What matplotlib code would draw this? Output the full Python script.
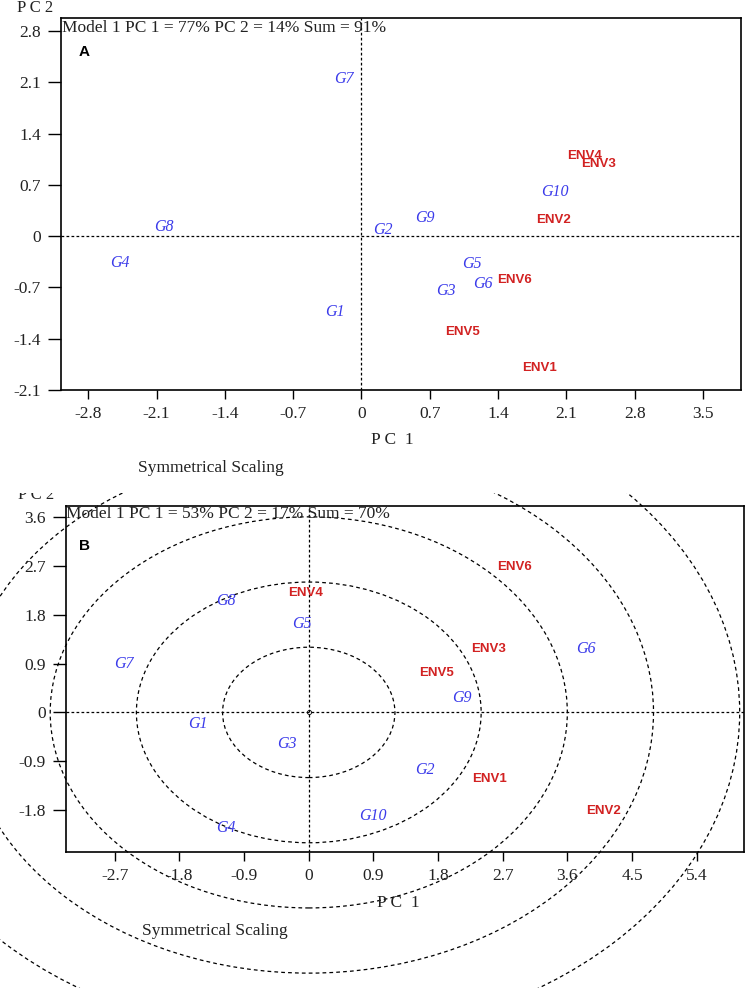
import matplotlib
matplotlib.use("Agg")
import matplotlib.pyplot as plt
from matplotlib.patches import Circle, Rectangle

# ---------------- data ----------------
# Panel A
a_gen_labels = ["G1", "G2", "G3", "G4", "G5", "G6", "G7", "G8", "G9", "G10"]
a_gen_pc1 = [-0.27, 0.22, 0.86, -2.48, 1.13, 1.24, -0.18, -2.03, 0.65, 1.98]
a_gen_pc2 = [-1.03, 0.08, -0.75, -0.36, -0.38, -0.65, 2.15, 0.12, 0.25, 0.60]
a_env_labels = ["ENV1", "ENV2", "ENV3", "ENV4", "ENV5", "ENV6"]
a_env_pc1 = [1.82, 1.97, 2.43, 2.29, 1.04, 1.57]
a_env_pc2 = [-1.80, 0.22, 0.98, 1.09, -1.31, -0.60]
a_ticks = [-2.8, -2.1, -1.4, -0.7, 0, 0.7, 1.4, 2.1, 2.8, 3.5]
a_yticks = [-2.1, -1.4, -0.7, 0, 0.7, 1.4, 2.1, 2.8]
a_title = "Model 1 PC 1 = 77% PC 2 = 14% Sum = 91%"

# Panel B
b_gen_labels = ["G1", "G2", "G3", "G4", "G5", "G6", "G7", "G8", "G9", "G10"]
b_gen_pc1 = [-1.54, 1.62, -0.30, -1.16, -0.09, 3.86, -2.57, -1.15, 2.13, 0.89]
b_gen_pc2 = [-0.22, -1.06, -0.58, -2.13, 1.62, 1.16, 0.90, 2.05, 0.26, -1.90]
b_env_labels = ["ENV1", "ENV2", "ENV3", "ENV4", "ENV5", "ENV6"]
b_env_pc1 = [2.52, 4.10, 2.51, -0.05, 1.78, 2.86]
b_env_pc2 = [-1.22, -1.82, 1.16, 2.20, 0.72, 2.68]
b_ticks = [-2.7, -1.8, -0.9, 0, 0.9, 1.8, 2.7, 3.6, 4.5, 5.4]
b_yticks = [-1.8, -0.9, 0, 0.9, 1.8, 2.7, 3.6]
b_circle_radii = [1.2, 2.4, 3.6, 4.8, 6.0]
b_title = "Model 1 PC 1 = 53% PC 2 = 17% Sum = 70%"

# ---------------- style ----------------
W, H = 746, 988
DPI = 100
SERIF = ["Liberation Serif", "DejaVu Serif"]
SANS = ["Liberation Sans", "DejaVu Sans"]
BLUE = "#3b3bea"
RED = "#d22222"
TXT = "#222222"
FS = 12.5

fig = plt.figure(figsize=(W / DPI, H / DPI), dpi=DPI)


def px_axes(left, top, right, bottom):
    return fig.add_axes([left / W, 1 - bottom / H, (right - left) / W, (bottom - top) / H])


def fmt(v):
    return "0" if v == 0 else ("%g" % v)


def setup(ax, xt, yt, xlim, ylim):
    ax.set_xlim(*xlim)
    ax.set_ylim(*ylim)
    ax.set_xticks(xt)
    ax.set_yticks(yt)
    ax.set_xticklabels([fmt(v) for v in xt], family=SERIF, fontsize=FS, color=TXT)
    ax.set_yticklabels([fmt(v) for v in yt], family=SERIF, fontsize=FS, color=TXT)
    ax.tick_params(axis="x", direction="out", length=6.5, width=1.0, pad=5)
    ax.tick_params(axis="y", direction="out", length=9.5, width=1.0, pad=5)
    for s in ax.spines.values():
        s.set_linewidth(1.2)
        s.set_color("black")
    ax.axhline(0, color="black", lw=0.9, linestyle=(0, (2.2, 1.8)), zorder=1)
    ax.axvline(0, color="black", lw=0.9, linestyle=(0, (2.2, 1.8)), zorder=1)


def labels(ax, gl, gx, gy, el, ex, ey):
    for t, x, y in zip(gl, gx, gy):
        ax.text(x, y, t, color=BLUE, family=SERIF, style="italic", fontsize=11.5,
                ha="center", va="center", zorder=3)
    for t, x, y in zip(el, ex, ey):
        ax.text(x, y, t, color=RED, family=SANS, weight="bold", fontsize=9.5,
                ha="center", va="center", zorder=3)


# ---------------- Panel A ----------------
axA = px_axes(61, 18, 741, 390)
setup(axA, a_ticks, a_yticks, (-3.08, 3.89), (-2.1, 2.98))
labels(axA, a_gen_labels, a_gen_pc1, a_gen_pc2, a_env_labels, a_env_pc1, a_env_pc2)
fig.text(62 / W, 1 - 28 / H, a_title, family=SERIF, fontsize=FS, ha="left", va="center", color=TXT)
fig.text(79 / W, 1 - 52 / H, "A", family=SANS, weight="bold", fontsize=11, ha="left", va="center")
fig.text(35 / W, 1 - 8 / H, "P C 2", family=SERIF, fontsize=12, ha="center", va="center", color=TXT)
fig.text(392 / W, 1 - 440 / H, "P C  1", family=SERIF, fontsize=12.5, ha="center", va="center", color=TXT)
fig.text(211 / W, 1 - 468 / H, "Symmetrical Scaling", family=SERIF, fontsize=FS, ha="center", va="center", color=TXT)

# ---------------- Panel B ----------------
axB = px_axes(66, 506, 744, 852)
setup(axB, b_ticks, b_yticks, (-3.38, 6.06), (-2.57, 3.80))
labels(axB, b_gen_labels, b_gen_pc1, b_gen_pc2, b_env_labels, b_env_pc1, b_env_pc2)
axB.plot([0], [0], marker="o", ms=3, mfc="none", mec="black", mew=0.6, zorder=2)

clip_rect = Rectangle((0, 0), 1, 1 - 493 / H, transform=fig.transFigure, visible=False)
fig.add_artist(clip_rect)
for r in b_circle_radii:
    c = Circle((0, 0), r, fill=False, edgecolor="black", lw=0.9,
               linestyle=(0, (3, 2.5)), transform=axB.transData, zorder=1)
    axB.add_patch(c)
    c.set_clip_path(clip_rect)

fig.text(66 / W, 1 - 514 / H, b_title, family=SERIF, fontsize=FS, ha="left", va="center", color=TXT)
fig.text(79 / W, 1 - 546 / H, "B", family=SANS, weight="bold", fontsize=11, ha="left", va="center")
tB = fig.text(36 / W, 1 - 495 / H, "P C 2", family=SERIF, fontsize=12, ha="center", va="center", color=TXT)
tB.set_clip_path(clip_rect)
fig.text(398 / W, 1 - 903 / H, "P C  1", family=SERIF, fontsize=12.5, ha="center", va="center", color=TXT)
fig.text(215 / W, 1 - 931 / H, "Symmetrical Scaling", family=SERIF, fontsize=FS, ha="center", va="center", color=TXT)

fig.savefig("out.png", dpi=DPI)
